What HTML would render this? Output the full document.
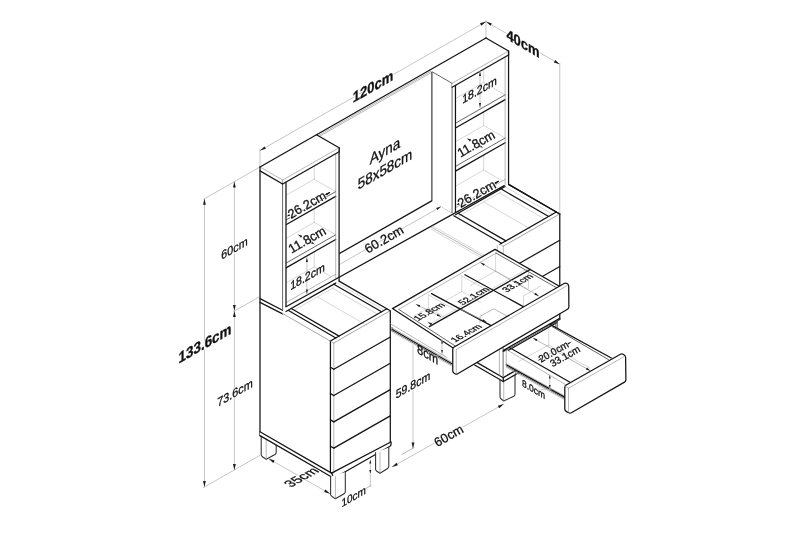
<!DOCTYPE html>
<html><head><meta charset="utf-8"><title>Furniture dimensions</title>
<style>
html,body{margin:0;padding:0;background:#fff;}
body{width:800px;height:533px;overflow:hidden;font-family:"Liberation Sans",sans-serif;}
svg{display:block;}
svg{filter:grayscale(1);}
svg text{font-family:"Liberation Sans",sans-serif;}
</style></head><body>
<svg width="800" height="533" viewBox="0 0 800 533" stroke-linecap="round">
<rect x="0" y="0" width="800" height="533" fill="#ffffff"/>
<!-- outer dimensions -->
<line x1="260" y1="166.99" x2="203.51" y2="199.24" stroke="#c6c6c6" stroke-width="1.0"/>
<line x1="260" y1="296.47" x2="233.45" y2="311.63" stroke="#c6c6c6" stroke-width="1.0"/>
<line x1="260" y1="455.3" x2="203.51" y2="487.55" stroke="#c6c6c6" stroke-width="1.0"/>
<line x1="204.45" y1="198.7" x2="204.45" y2="487.01" stroke="#c6c6c6" stroke-width="1.0"/>
<polygon points="204.45,198.7 205.85,204.7 203.05,204.7" fill="#1a1a1a"/>
<polygon points="204.45,487.01 203.05,481.01 205.85,481.01" fill="#1a1a1a"/>
<line x1="234.39" y1="181.61" x2="234.39" y2="311.09" stroke="#c6c6c6" stroke-width="1.0"/>
<polygon points="234.39,181.61 235.79,187.61 232.99,187.61" fill="#1a1a1a"/>
<polygon points="234.39,311.09 232.99,305.09 235.79,305.09" fill="#1a1a1a"/>
<line x1="234.39" y1="311.09" x2="234.39" y2="469.92" stroke="#c6c6c6" stroke-width="1.0"/>
<polygon points="234.39,311.09 235.79,317.09 232.99,317.09" fill="#1a1a1a"/>
<polygon points="234.39,469.92 232.99,463.92 235.79,463.92" fill="#1a1a1a"/>
<line x1="260" y1="166.99" x2="260" y2="149.3" stroke="#c6c6c6" stroke-width="1.0"/>
<line x1="485.96" y1="37.99" x2="485.96" y2="20.3" stroke="#c6c6c6" stroke-width="1.0"/>
<line x1="260" y1="150.59" x2="485.96" y2="21.59" stroke="#c6c6c6" stroke-width="1.0"/>
<polygon points="260,150.59 264.52,146.4 265.9,148.83" fill="#1a1a1a"/>
<polygon points="485.96,21.59 481.44,25.78 480.06,23.35" fill="#1a1a1a"/>
<line x1="485.96" y1="21.59" x2="559.77" y2="64.24" stroke="#c6c6c6" stroke-width="1.0"/>
<polygon points="485.96,21.59 491.86,23.38 490.45,25.8" fill="#1a1a1a"/>
<polygon points="559.77,64.24 553.88,62.45 555.28,60.03" fill="#1a1a1a"/>
<line x1="559.77" y1="63.38" x2="559.77" y2="214.01" stroke="#c6c6c6" stroke-width="1.0"/>
<line x1="268.75" y1="458.75" x2="330" y2="493.75" stroke="#c6c6c6" stroke-width="1.0"/>
<polygon points="268.75,458.75 274.65,460.51 273.26,462.94" fill="#1a1a1a"/>
<polygon points="330,493.75 324.1,491.99 325.49,489.56" fill="#1a1a1a"/>
<line x1="392" y1="467" x2="503.75" y2="404" stroke="#c6c6c6" stroke-width="1.0"/>
<polygon points="392,467 396.54,462.83 397.91,465.27" fill="#1a1a1a"/>
<polygon points="503.75,404 499.21,408.17 497.84,405.73" fill="#1a1a1a"/>
<line x1="370.3" y1="460" x2="370.3" y2="473.5" stroke="#c6c6c6" stroke-width="1.0"/>
<polygon points="370.3,460 371.3,463.5 369.3,463.5" fill="#1a1a1a"/>
<polygon points="370.3,473.5 369.3,470 371.3,470" fill="#1a1a1a"/>
<line x1="370.3" y1="473.5" x2="370.3" y2="486" stroke="#c6c6c6" stroke-width="1.0"/>
<line x1="364" y1="489.5" x2="371" y2="485.6" stroke="#9a9a9a" stroke-width="0.7"/>
<line x1="413" y1="345" x2="413" y2="448.5" stroke="#c6c6c6" stroke-width="1.0"/>
<polygon points="413,448.5 411.6,442.5 414.4,442.5" fill="#1a1a1a"/>
<line x1="402" y1="454.4" x2="414" y2="447.6" stroke="#9a9a9a" stroke-width="0.7"/>
<!-- legs -->
<polygon points="261.2,434 261.2,456 266.2,459.3 276.2,453.8 276.2,443" fill="#fff" stroke="none"/>
<path d="M261.2,434 L261.2,454.8 Q261.2,456 262.4,456.72 L266.2,459.3 L275,454.52 Q276.2,453.8 276.2,452.6 L276.2,443" fill="none" stroke="#2e2e2e" stroke-width="1.05" stroke-linejoin="round"/>
<line x1="266.2" y1="458.7" x2="266.2" y2="438.5" stroke="#9a9a9a" stroke-width="0.7"/>
<!-- mirror -->
<polygon points="316.49,134.74 429.47,70.24 432.11,71.76 432.11,201.24 319.13,265.74" fill="#fff" stroke="none"/>
<line x1="316.49" y1="134.74" x2="429.47" y2="70.24" stroke="#141414" stroke-width="1.25"/>
<line x1="318.09" y1="135.67" x2="431.07" y2="71.17" stroke="#9a9a9a" stroke-width="0.7"/>
<line x1="319.41" y1="136.43" x2="432.39" y2="71.93" stroke="#9a9a9a" stroke-width="0.7"/>
<line x1="432.11" y1="71.76" x2="432.11" y2="200.6" stroke="#141414" stroke-width="1.25"/>
<line x1="319.13" y1="265.1" x2="432.11" y2="200.6" stroke="#141414" stroke-width="1.25"/>
<line x1="432.11" y1="200.6" x2="452.07" y2="212.78" stroke="#4a4a4a" stroke-width="0.85"/>
<line x1="330.05" y1="269.89" x2="441.14" y2="206.47" stroke="#c6c6c6" stroke-width="1.0"/>
<polygon points="441.14,206.47 437.4,209.99 436.21,207.9" fill="#1a1a1a"/>
<!-- tower 0 -->
<polygon points="260,166.99 260,166.99 316.49,134.74 339.09,147.8 339.09,277.28 282.6,309.53 260,296.47" fill="#fff" stroke="none"/>
<line x1="314.23" y1="179.19" x2="314.23" y2="165.87" stroke="#bdbdbd" stroke-width="0.6"/>
<line x1="314.23" y1="179.19" x2="285.99" y2="195.32" stroke="#bdbdbd" stroke-width="0.6"/>
<line x1="314.23" y1="179.19" x2="335.7" y2="191.6" stroke="#bdbdbd" stroke-width="0.6"/>
<line x1="314.23" y1="222.35" x2="314.23" y2="208.6" stroke="#bdbdbd" stroke-width="0.6"/>
<line x1="314.23" y1="222.35" x2="285.99" y2="238.48" stroke="#bdbdbd" stroke-width="0.6"/>
<line x1="314.23" y1="222.35" x2="335.7" y2="234.76" stroke="#bdbdbd" stroke-width="0.6"/>
<line x1="314.23" y1="266.81" x2="314.23" y2="251.76" stroke="#bdbdbd" stroke-width="0.6"/>
<line x1="314.23" y1="266.81" x2="285.99" y2="282.93" stroke="#bdbdbd" stroke-width="0.6"/>
<line x1="314.23" y1="266.81" x2="335.7" y2="279.21" stroke="#bdbdbd" stroke-width="0.6"/>
<polygon points="285.99,219.98 335.7,191.6 335.7,196.34 285.99,224.72" fill="#fff" stroke="none"/>
<line x1="285.99" y1="219.98" x2="335.7" y2="191.6" stroke="#4a4a4a" stroke-width="0.85"/>
<line x1="285.99" y1="224.72" x2="335.7" y2="196.34" stroke="#141414" stroke-width="1.25"/>
<polygon points="285.99,263.14 335.7,234.76 335.7,239.5 285.99,267.88" fill="#fff" stroke="none"/>
<line x1="285.99" y1="263.14" x2="335.7" y2="234.76" stroke="#4a4a4a" stroke-width="0.85"/>
<line x1="285.99" y1="267.88" x2="335.7" y2="239.5" stroke="#141414" stroke-width="1.25"/>
<polygon points="285.99,302.63 335.7,274.25 335.7,280.08 285.99,308.46" fill="#fff" stroke="none"/>
<line x1="285.99" y1="302.63" x2="335.7" y2="274.25" stroke="#9a9a9a" stroke-width="0.7"/>
<line x1="335.7" y1="153.62" x2="335.7" y2="278.13" stroke="#9a9a9a" stroke-width="0.7"/>
<line x1="339.09" y1="147.8" x2="339.09" y2="281.16" stroke="#141414" stroke-width="1.25"/>
<polygon points="260,166.99 282.6,180.05 285.99,182 285.99,307.59 282.6,309.53 260,296.47" fill="#fff" stroke="none"/>
<line x1="282.6" y1="180.05" x2="282.6" y2="309.53" stroke="#4a4a4a" stroke-width="0.85"/>
<line x1="285.99" y1="182" x2="285.99" y2="306.51" stroke="#141414" stroke-width="1.25"/>
<polygon points="260,166.99 316.49,134.74 339.09,147.8 339.09,151.68 282.6,183.93 282.6,180.05" fill="#fff" stroke="none"/>
<line x1="260" y1="166.99" x2="316.49" y2="134.74" stroke="#141414" stroke-width="1.25"/>
<line x1="316.49" y1="134.74" x2="339.09" y2="147.8" stroke="#141414" stroke-width="1.25"/>
<line x1="282.6" y1="180.05" x2="339.09" y2="147.8" stroke="#9a9a9a" stroke-width="0.7"/>
<line x1="260" y1="166.99" x2="282.6" y2="180.05" stroke="#9a9a9a" stroke-width="0.7"/>
<line x1="282.6" y1="183.93" x2="339.09" y2="151.68" stroke="#141414" stroke-width="1.25"/>
<line x1="339.09" y1="147.8" x2="339.09" y2="151.68" stroke="#141414" stroke-width="1.25"/>
<line x1="260" y1="170.88" x2="282.6" y2="183.93" stroke="#141414" stroke-width="1.25"/>
<!-- tower 90 -->
<polygon points="432.11,71.76 429.47,70.24 485.96,37.99 508.56,51.05 508.56,180.53 452.07,212.78 432.11,201.24" fill="#fff" stroke="none"/>
<line x1="483.7" y1="82.44" x2="483.7" y2="69.12" stroke="#bdbdbd" stroke-width="0.6"/>
<line x1="483.7" y1="82.44" x2="455.46" y2="98.57" stroke="#bdbdbd" stroke-width="0.6"/>
<line x1="483.7" y1="82.44" x2="505.17" y2="94.85" stroke="#bdbdbd" stroke-width="0.6"/>
<line x1="483.7" y1="125.6" x2="483.7" y2="111.85" stroke="#bdbdbd" stroke-width="0.6"/>
<line x1="483.7" y1="125.6" x2="455.46" y2="141.73" stroke="#bdbdbd" stroke-width="0.6"/>
<line x1="483.7" y1="125.6" x2="505.17" y2="138.01" stroke="#bdbdbd" stroke-width="0.6"/>
<line x1="483.7" y1="170.06" x2="483.7" y2="155.01" stroke="#bdbdbd" stroke-width="0.6"/>
<line x1="483.7" y1="170.06" x2="455.46" y2="186.18" stroke="#bdbdbd" stroke-width="0.6"/>
<line x1="483.7" y1="170.06" x2="505.17" y2="182.46" stroke="#bdbdbd" stroke-width="0.6"/>
<polygon points="455.46,123.23 505.17,94.85 505.17,99.59 455.46,127.97" fill="#fff" stroke="none"/>
<line x1="455.46" y1="123.23" x2="505.17" y2="94.85" stroke="#4a4a4a" stroke-width="0.85"/>
<line x1="455.46" y1="127.97" x2="505.17" y2="99.59" stroke="#141414" stroke-width="1.25"/>
<polygon points="455.46,166.39 505.17,138.01 505.17,142.75 455.46,171.13" fill="#fff" stroke="none"/>
<line x1="455.46" y1="166.39" x2="505.17" y2="138.01" stroke="#4a4a4a" stroke-width="0.85"/>
<line x1="455.46" y1="171.13" x2="505.17" y2="142.75" stroke="#141414" stroke-width="1.25"/>
<polygon points="455.46,207.82 505.17,179.44 505.17,183.33 455.46,211.71" fill="#fff" stroke="none"/>
<line x1="455.46" y1="207.82" x2="505.17" y2="179.44" stroke="#9a9a9a" stroke-width="0.7"/>
<line x1="505.17" y1="56.87" x2="505.17" y2="184.4" stroke="#9a9a9a" stroke-width="0.7"/>
<line x1="508.56" y1="51.05" x2="508.56" y2="184.41" stroke="#141414" stroke-width="1.25"/>
<polygon points="432.11,71.76 452.07,83.3 455.46,85.25 455.46,210.84 452.07,212.78 432.11,201.24" fill="#fff" stroke="none"/>
<line x1="452.07" y1="83.3" x2="452.07" y2="212.78" stroke="#4a4a4a" stroke-width="0.85"/>
<line x1="455.46" y1="85.25" x2="455.46" y2="212.35" stroke="#141414" stroke-width="1.25"/>
<polygon points="429.47,70.24 485.96,37.99 508.56,51.05 508.56,54.93 452.07,87.18 452.07,83.3" fill="#fff" stroke="none"/>
<line x1="429.47" y1="70.24" x2="485.96" y2="37.99" stroke="#141414" stroke-width="1.25"/>
<line x1="485.96" y1="37.99" x2="508.56" y2="51.05" stroke="#141414" stroke-width="1.25"/>
<line x1="452.07" y1="83.3" x2="508.56" y2="51.05" stroke="#9a9a9a" stroke-width="0.7"/>
<line x1="432.11" y1="71.76" x2="452.07" y2="83.3" stroke="#4a4a4a" stroke-width="0.85"/>
<line x1="452.07" y1="87.18" x2="508.56" y2="54.93" stroke="#141414" stroke-width="1.25"/>
<line x1="508.56" y1="51.05" x2="508.56" y2="54.93" stroke="#141414" stroke-width="1.25"/>
<line x1="432.11" y1="72.41" x2="432.11" y2="200.6" stroke="#4a4a4a" stroke-width="0.85"/>
<line x1="286" y1="306.75" x2="504.3" y2="185.6" stroke="#141414" stroke-width="1.25"/>
<line x1="431.5" y1="227.3" x2="486.5" y2="258.6" stroke="#9a9a9a" stroke-width="0.7"/>
<line x1="431.2" y1="229.2" x2="484.5" y2="259.6" stroke="#bdbdbd" stroke-width="0.6"/>
<line x1="433" y1="226.2" x2="489" y2="258" stroke="#bdbdbd" stroke-width="0.6"/>
<!-- left cabinet -->
<polygon points="260,296.47 282.6,309.53 282.6,313.41 330.42,341.05 330.42,476.35 260,435.66" fill="#fff" stroke="none"/>
<line x1="260" y1="166.99" x2="260" y2="435.66" stroke="#141414" stroke-width="1.25"/>
<line x1="260" y1="298.6" x2="282.6" y2="310.2" stroke="#141414" stroke-width="1.25"/>
<line x1="260" y1="302.4" x2="282.6" y2="313.9" stroke="#141414" stroke-width="1.25"/>
<line x1="282.6" y1="313.41" x2="330.42" y2="341.05" stroke="#9a9a9a" stroke-width="0.7"/>
<polygon points="282.6,313.41 339.09,281.16 390.3,310.76 333.81,343.01" fill="#fff" stroke="none"/>
<line x1="291.26" y1="311.81" x2="333.81" y2="287.52" stroke="#bdbdbd" stroke-width="0.6"/>
<line x1="317.43" y1="296.87" x2="364.32" y2="323.96" stroke="#bdbdbd" stroke-width="0.6"/>
<line x1="332.5" y1="288.27" x2="377.5" y2="314.27" stroke="#bdbdbd" stroke-width="0.6"/>
<line x1="285.99" y1="311.48" x2="335.7" y2="283.1" stroke="#141414" stroke-width="1.25"/>
<line x1="282.6" y1="313.41" x2="330.42" y2="341.05" stroke="#9a9a9a" stroke-width="0.7"/>
<line x1="288.06" y1="310.29" x2="335.88" y2="337.93" stroke="#141414" stroke-width="1.25"/>
<line x1="291.26" y1="308.47" x2="339.09" y2="336.1" stroke="#141414" stroke-width="1.25"/>
<line x1="333.81" y1="284.17" x2="381.64" y2="311.81" stroke="#141414" stroke-width="1.25"/>
<line x1="336.64" y1="282.56" x2="384.47" y2="310.19" stroke="#bdbdbd" stroke-width="0.6"/>
<line x1="339.09" y1="281.16" x2="390.3" y2="310.76" stroke="#141414" stroke-width="1.25"/>
<line x1="330.42" y1="341.05" x2="386.91" y2="308.8" stroke="#141414" stroke-width="1.25"/>
<line x1="333.81" y1="343.01" x2="390.3" y2="310.76" stroke="#9a9a9a" stroke-width="0.7"/>
<polygon points="333.81,343.01 390.3,310.76 390.3,442.18 333.81,474.43" fill="#fff" stroke="none"/>
<polygon points="330.42,341.05 333.81,343.01 333.81,474.43 330.42,472.47" fill="#fff" stroke="none"/>
<line x1="330.42" y1="341.05" x2="330.42" y2="476.35" stroke="#141414" stroke-width="1.25"/>
<line x1="333.81" y1="343.01" x2="333.81" y2="474.43" stroke="#9a9a9a" stroke-width="0.7"/>
<line x1="330.42" y1="341.05" x2="333.81" y2="343.01" stroke="#9a9a9a" stroke-width="0.7"/>
<line x1="333.81" y1="343.01" x2="390.3" y2="310.76" stroke="#9a9a9a" stroke-width="0.7"/>
<line x1="390.3" y1="310.76" x2="390.3" y2="442.18" stroke="#141414" stroke-width="1.25"/>
<line x1="333.81" y1="369.29" x2="390.3" y2="337.04" stroke="#141414" stroke-width="1.25"/>
<line x1="330.42" y1="367.33" x2="333.81" y2="369.29" stroke="#141414" stroke-width="1.25"/>
<line x1="333.81" y1="395.57" x2="390.3" y2="363.32" stroke="#141414" stroke-width="1.25"/>
<line x1="330.42" y1="393.62" x2="333.81" y2="395.57" stroke="#141414" stroke-width="1.25"/>
<line x1="333.81" y1="421.86" x2="390.3" y2="389.61" stroke="#141414" stroke-width="1.25"/>
<line x1="330.42" y1="419.9" x2="333.81" y2="421.86" stroke="#141414" stroke-width="1.25"/>
<line x1="333.81" y1="448.14" x2="390.3" y2="415.89" stroke="#141414" stroke-width="1.25"/>
<line x1="330.42" y1="446.18" x2="333.81" y2="448.14" stroke="#141414" stroke-width="1.25"/>
<polygon points="260,431.78 333.81,474.43 391.25,441.64 391.25,445.52 334.38,478.64 260,435.66" fill="#fff" stroke="none"/>
<line x1="260" y1="431.78" x2="331.55" y2="473.12" stroke="#141414" stroke-width="1.25"/>
<line x1="260" y1="435.66" x2="333.81" y2="478.31" stroke="#141414" stroke-width="1.25"/>
<line x1="331.55" y1="473.12" x2="390.3" y2="442.18" stroke="#141414" stroke-width="1.25"/>
<path d="M333.81,478.31 L389.56,446.53 Q391.06,445.63 391.06,444.13 L391.06,441.75" fill="none" stroke="#141414" stroke-width="1.25"/>
<line x1="331.55" y1="473.12" x2="333.81" y2="478.31" stroke="#141414" stroke-width="1.25"/>
<polygon points="330.6,476.5 330.6,495.6 335.4,498.8 345.3,493 345.3,472" fill="#fff" stroke="none"/>
<path d="M330.6,476.5 L330.6,494.4 Q330.6,495.6 331.8,496.32 L335.4,498.8 L344.1,493.72 Q345.3,493 345.3,491.8 L345.3,472" fill="none" stroke="#2e2e2e" stroke-width="1.05" stroke-linejoin="round"/>
<line x1="335.4" y1="498.2" x2="335.4" y2="476.53" stroke="#9a9a9a" stroke-width="0.7"/>
<polygon points="375.6,452.5 375.6,470.5 380,473.3 388.8,467.8 388.8,447.5" fill="#fff" stroke="none"/>
<path d="M375.6,452.5 L375.6,469.3 Q375.6,470.5 376.8,471.22 L380,473.3 L387.6,468.52 Q388.8,467.8 388.8,466.6 L388.8,447.5" fill="none" stroke="#2e2e2e" stroke-width="1.05" stroke-linejoin="round"/>
<line x1="380" y1="472.7" x2="380" y2="452.33" stroke="#9a9a9a" stroke-width="0.7"/>
<!-- right cabinet -->
<polygon points="452.07,216.66 508.56,184.41 559.77,214.01 503.28,246.26" fill="#fff" stroke="none"/>
<line x1="458.09" y1="216.57" x2="500.84" y2="192.16" stroke="#bdbdbd" stroke-width="0.6"/>
<line x1="483.7" y1="201.95" x2="530.59" y2="229.04" stroke="#bdbdbd" stroke-width="0.6"/>
<line x1="499.52" y1="192.92" x2="544.52" y2="218.92" stroke="#bdbdbd" stroke-width="0.6"/>
<line x1="455.46" y1="214.73" x2="505.17" y2="186.35" stroke="#141414" stroke-width="1.25"/>
<line x1="453.76" y1="215.69" x2="501.59" y2="243.33" stroke="#141414" stroke-width="1.25"/>
<line x1="458.09" y1="213.22" x2="505.92" y2="240.86" stroke="#141414" stroke-width="1.25"/>
<line x1="500.84" y1="188.82" x2="548.66" y2="216.45" stroke="#141414" stroke-width="1.25"/>
<line x1="504.79" y1="186.56" x2="552.62" y2="214.2" stroke="#bdbdbd" stroke-width="0.6"/>
<line x1="508.56" y1="184.41" x2="559.77" y2="214.01" stroke="#141414" stroke-width="1.25"/>
<line x1="499.89" y1="244.3" x2="556.38" y2="212.05" stroke="#141414" stroke-width="1.25"/>
<line x1="503.28" y1="246.26" x2="559.77" y2="214.01" stroke="#9a9a9a" stroke-width="0.7"/>
<line x1="508.56" y1="184.41" x2="559.77" y2="214.01" stroke="#141414" stroke-width="1.25"/>
<polygon points="503.28,246.26 559.77,214.01 559.77,345.43 503.28,377.68" fill="#fff" stroke="none"/>
<line x1="503.28" y1="246.26" x2="559.77" y2="214.01" stroke="#9a9a9a" stroke-width="0.7"/>
<line x1="559.77" y1="214.01" x2="559.77" y2="319.14" stroke="#141414" stroke-width="1.25"/>
<line x1="503.28" y1="272.54" x2="559.77" y2="240.29" stroke="#141414" stroke-width="1.25"/>
<line x1="503.28" y1="298.82" x2="559.77" y2="266.57" stroke="#141414" stroke-width="1.25"/>
<line x1="503.28" y1="325.11" x2="559.77" y2="292.86" stroke="#141414" stroke-width="1.25"/>
<line x1="503.28" y1="351.39" x2="559.77" y2="319.14" stroke="#141414" stroke-width="1.25"/>
<line x1="499.89" y1="244.3" x2="503.28" y2="246.26" stroke="#9a9a9a" stroke-width="0.7"/>
<line x1="503.28" y1="246.26" x2="503.28" y2="272.15" stroke="#9a9a9a" stroke-width="0.7"/>
<line x1="497.26" y1="245.8" x2="497.26" y2="271.7" stroke="#9a9a9a" stroke-width="0.7"/>
<polygon points="503.28,377.68 559.77,345.43 559.77,349.31 503.28,381.56" fill="#fff" stroke="none"/>
<line x1="503.28" y1="377.68" x2="559.77" y2="345.43" stroke="#141414" stroke-width="1.25"/>
<line x1="503.28" y1="381.56" x2="559.77" y2="349.31" stroke="#141414" stroke-width="1.25"/>
<!-- right cabinet left side, under desk -->
<polygon points="500,379 500,398.3 503.75,401 515,395.5 515,373" fill="#fff" stroke="none"/>
<path d="M500,379 L500,397.1 Q500,398.3 501.2,399.02 L503.75,401 L513.8,396.22 Q515,395.5 515,394.3 L515,373" fill="none" stroke="#2e2e2e" stroke-width="1.05" stroke-linejoin="round"/>
<line x1="503.75" y1="400.4" x2="503.75" y2="379" stroke="#9a9a9a" stroke-width="0.7"/>
<polygon points="474.66,361.14 503.28,377.68 514.96,371.01 514.96,374.9 503.28,381.56 474.66,365.02" fill="#fff" stroke="none"/>
<line x1="474.66" y1="361.14" x2="503.28" y2="377.68" stroke="#141414" stroke-width="1.25"/>
<line x1="474.66" y1="365.02" x2="503.28" y2="381.56" stroke="#141414" stroke-width="1.25"/>
<line x1="503.28" y1="377.68" x2="514.96" y2="371.01" stroke="#141414" stroke-width="1.25"/>
<line x1="503.28" y1="381.56" x2="514.96" y2="374.9" stroke="#141414" stroke-width="1.25"/>
<line x1="503.28" y1="377.68" x2="503.28" y2="381.56" stroke="#141414" stroke-width="1.25"/>
<line x1="499.4" y1="340" x2="499.4" y2="375" stroke="#9a9a9a" stroke-width="0.7"/>
<line x1="503.1" y1="340" x2="503.1" y2="377" stroke="#4a4a4a" stroke-width="0.85"/>
<!-- small drawer -->
<polygon points="506.25,348.1 570,383.6 570,400.6 506.25,365.1" fill="#fff" stroke="none"/>
<polygon points="506.25,348.1 550,324.4 611.3,358 570,383.6" fill="#fff" stroke="none"/>
<line x1="506.25" y1="363.5" x2="565.5" y2="396.4" stroke="#9a9a9a" stroke-width="0.7"/>
<line x1="506.25" y1="364.7" x2="565.5" y2="397.6" stroke="#141414" stroke-width="1.25"/>
<line x1="506.25" y1="366" x2="565.5" y2="398.9" stroke="#4a4a4a" stroke-width="0.85"/>
<line x1="506.25" y1="367.3" x2="565.5" y2="400.2" stroke="#9a9a9a" stroke-width="0.7"/>
<line x1="506.25" y1="349.1" x2="506.25" y2="365.1" stroke="#9a9a9a" stroke-width="0.7"/>
<line x1="548.75" y1="327.5" x2="548.75" y2="345" stroke="#bdbdbd" stroke-width="0.6"/>
<line x1="548.75" y1="345" x2="518" y2="361.8" stroke="#bdbdbd" stroke-width="0.6"/>
<line x1="548.75" y1="345" x2="590" y2="368.1" stroke="#bdbdbd" stroke-width="0.6"/>
<line x1="506" y1="349.2" x2="565.5" y2="384.6" stroke="#9a9a9a" stroke-width="0.7"/>
<line x1="509" y1="347.2" x2="570" y2="382.2" stroke="#141414" stroke-width="1.25"/>
<line x1="503.5" y1="350.4" x2="559.8" y2="318.3" stroke="#141414" stroke-width="1.25"/>
<line x1="505.5" y1="350.6" x2="559.8" y2="319.6" stroke="#4a4a4a" stroke-width="0.85"/>
<line x1="508.5" y1="350.2" x2="557" y2="322.5" stroke="#141414" stroke-width="1.25"/>
<line x1="555.8" y1="321.5" x2="555.8" y2="327.3" stroke="#4a4a4a" stroke-width="0.85"/>
<line x1="557.3" y1="320.5" x2="557.3" y2="328.2" stroke="#4a4a4a" stroke-width="0.85"/>
<line x1="550" y1="324.4" x2="611.3" y2="358" stroke="#141414" stroke-width="1.25"/>
<line x1="552.4" y1="326.8" x2="608.5" y2="359.6" stroke="#4a4a4a" stroke-width="0.85"/>
<line x1="533" y1="338" x2="590.3" y2="370.8" stroke="#9a9a9a" stroke-width="0.7"/>
<polygon points="533,338 537.45,339.28 536.36,341.19" fill="#1a1a1a"/>
<polygon points="590.3,370.8 585.85,369.52 586.94,367.61" fill="#1a1a1a"/>
<line x1="538" y1="360.6" x2="571.3" y2="341.9" stroke="#9a9a9a" stroke-width="0.7"/>
<polygon points="538,360.6 541.39,357.44 542.46,359.36" fill="#1a1a1a"/>
<polygon points="571.3,341.9 567.91,345.06 566.84,343.14" fill="#1a1a1a"/>
<path d="M564.8,387.4 Q564.8,385.8 566.19,385.01 L620.41,354.29 Q621.8,353.5 623.17,354.33 L624.23,354.97 Q625.6,355.8 625.62,357.4 L625.88,379.7 Q625.9,381.3 624.51,382.1 L571.39,412.8 Q570,413.6 568.61,412.8 L566.19,411.4 Q564.8,410.6 564.8,409 Z" fill="#fff" stroke="#141414" stroke-width="1.25" stroke-linejoin="round"/>
<line x1="568.5" y1="388.2" x2="624.2" y2="356.6" stroke="#9a9a9a" stroke-width="0.7"/>
<line x1="568.5" y1="388.2" x2="568.5" y2="412" stroke="#9a9a9a" stroke-width="0.7"/>
<line x1="564.8" y1="385.8" x2="568.5" y2="388.2" stroke="#9a9a9a" stroke-width="0.7"/>
<line x1="549.8" y1="375" x2="549.8" y2="388.5" stroke="#c6c6c6" stroke-width="1.0"/>
<polygon points="549.8,375 550.7,378.5 548.9,378.5" fill="#1a1a1a"/>
<polygon points="549.8,388.5 548.9,385 550.7,385" fill="#1a1a1a"/>
<line x1="540" y1="389.5" x2="551" y2="389.5" stroke="#bdbdbd" stroke-width="0.6"/>
<!-- wide drawer -->
<polygon points="392.5,308.6 452.8,347.8 452.8,371.3 392.5,329.1" fill="#fff" stroke="none"/>
<polygon points="392.5,308.6 495,249.4 559.4,286.25 452.8,347.8" fill="#fff" stroke="none"/>
<line x1="390.6" y1="323.8" x2="447" y2="357.6" stroke="#9a9a9a" stroke-width="0.7"/>
<line x1="392" y1="327.8" x2="451.5" y2="362" stroke="#9a9a9a" stroke-width="0.7"/>
<line x1="392" y1="329.3" x2="451.5" y2="363.5" stroke="#141414" stroke-width="1.25"/>
<line x1="392" y1="330.7" x2="451.5" y2="364.9" stroke="#4a4a4a" stroke-width="0.85"/>
<line x1="392" y1="332" x2="451.5" y2="366.2" stroke="#bdbdbd" stroke-width="0.6"/>
<line x1="392" y1="327.3" x2="392" y2="331" stroke="#4a4a4a" stroke-width="0.85"/>
<line x1="495.6" y1="252.5" x2="495.6" y2="271" stroke="#bdbdbd" stroke-width="0.6"/>
<line x1="495.6" y1="271" x2="470.5" y2="285.5" stroke="#bdbdbd" stroke-width="0.6"/>
<line x1="495.6" y1="271" x2="527.5" y2="289" stroke="#bdbdbd" stroke-width="0.6"/>
<line x1="461.8" y1="276" x2="461.8" y2="291.5" stroke="#bdbdbd" stroke-width="0.6"/>
<line x1="461.8" y1="291.5" x2="446" y2="300.5" stroke="#bdbdbd" stroke-width="0.6"/>
<line x1="461.8" y1="291.5" x2="481" y2="302.5" stroke="#bdbdbd" stroke-width="0.6"/>
<line x1="461.8" y1="276" x2="490" y2="291.8" stroke="#bdbdbd" stroke-width="0.6"/>
<line x1="428.4" y1="294.9" x2="428.4" y2="307.9" stroke="#bdbdbd" stroke-width="0.6"/>
<line x1="428.4" y1="307.9" x2="414" y2="316" stroke="#bdbdbd" stroke-width="0.6"/>
<line x1="428.4" y1="307.9" x2="447" y2="318.5" stroke="#bdbdbd" stroke-width="0.6"/>
<line x1="428.4" y1="294.9" x2="457.5" y2="311.2" stroke="#bdbdbd" stroke-width="0.6"/>
<polyline points="480,322.5 480,316.3 493.8,308.8 507.5,316.3" fill="none" stroke="#9a9a9a" stroke-width="0.7" stroke-linejoin="round"/>
<line x1="523.5" y1="306.9" x2="523.5" y2="296" stroke="#bdbdbd" stroke-width="0.6"/>
<line x1="523.5" y1="296" x2="540.5" y2="286" stroke="#bdbdbd" stroke-width="0.6"/>
<line x1="528.5" y1="272.5" x2="528.5" y2="288.5" stroke="#bdbdbd" stroke-width="0.6"/>
<line x1="455.57" y1="346.2" x2="398.67" y2="309.33" stroke="#4a4a4a" stroke-width="0.85"/>
<line x1="398.67" y1="309.33" x2="496.06" y2="253.08" stroke="#9a9a9a" stroke-width="0.7"/>
<line x1="496.06" y1="253.08" x2="556.63" y2="287.85" stroke="#4a4a4a" stroke-width="0.85"/>
<line x1="429.3" y1="326.6" x2="530.4" y2="269.4" stroke="#141414" stroke-width="1.25"/>
<line x1="430.5" y1="323.6" x2="529" y2="267.9" stroke="#bdbdbd" stroke-width="0.6"/>
<line x1="431.5" y1="293.6" x2="491.2" y2="325.6" stroke="#141414" stroke-width="1.25"/>
<line x1="464.9" y1="274.7" x2="523.7" y2="306.9" stroke="#141414" stroke-width="1.25"/>
<polyline points="452.8,347.8 392.5,308.6 495,249.4 559.4,286.25" fill="none" stroke="#141414" stroke-width="1.25" stroke-linejoin="round"/>
<line x1="416" y1="304.3" x2="441" y2="316.7" stroke="#9a9a9a" stroke-width="0.7"/>
<polygon points="416,304.3 420.25,305.18 419.27,307.15" fill="#1a1a1a"/>
<polygon points="441,316.7 436.75,315.82 437.73,313.85" fill="#1a1a1a"/>
<line x1="480.4" y1="262.6" x2="538.8" y2="296" stroke="#9a9a9a" stroke-width="0.7"/>
<polygon points="480.4,262.6 484.85,263.88 483.76,265.79" fill="#1a1a1a"/>
<polygon points="538.8,296 534.35,294.72 535.44,292.81" fill="#1a1a1a"/>
<line x1="427.9" y1="322.2" x2="431" y2="323.9" stroke="#9a9a9a" stroke-width="0.7"/>
<polygon points="427.9,322.2 432.11,323.26 431.05,325.18" fill="#1a1a1a"/>
<line x1="486.5" y1="322" x2="461" y2="309.5" stroke="#9a9a9a" stroke-width="0.7"/>
<polygon points="486.5,322 482.24,321.14 483.21,319.16" fill="#1a1a1a"/>
<path d="M452.75,349.35 Q452.75,347.75 454.14,346.95 L564.11,283.5 Q565.5,282.7 566.88,283.52 L567.32,283.78 Q568.7,284.6 568.71,286.2 L568.89,306.8 Q568.9,308.4 567.52,309.21 L457.68,373.69 Q456.3,374.5 454.92,373.69 L454.13,373.21 Q452.75,372.4 452.75,370.8 Z" fill="#fff" stroke="#141414" stroke-width="1.25" stroke-linejoin="round"/>
<line x1="456.25" y1="349.6" x2="567.5" y2="285.4" stroke="#9a9a9a" stroke-width="0.7"/>
<line x1="456.25" y1="349.6" x2="456.25" y2="373.5" stroke="#9a9a9a" stroke-width="0.7"/>
<line x1="442" y1="340" x2="442" y2="353.5" stroke="#c6c6c6" stroke-width="1.0"/>
<polygon points="442,340 442.9,343.5 441.1,343.5" fill="#1a1a1a"/>
<polygon points="442,353.5 441.1,350 442.9,350" fill="#1a1a1a"/>
<line x1="433" y1="356.5" x2="443.5" y2="354" stroke="#bdbdbd" stroke-width="0.6"/>
<!-- tower dims -->
<line x1="306.9" y1="257.5" x2="306.9" y2="294" stroke="#c6c6c6" stroke-width="1.0"/>
<polygon points="306.9,257.5 307.9,262 305.9,262" fill="#1a1a1a"/>
<polygon points="306.9,294 305.9,289.5 307.9,289.5" fill="#1a1a1a"/>
<line x1="298" y1="234.6" x2="314.5" y2="244.2" stroke="#bdbdbd" stroke-width="0.6"/>
<polygon points="298,234.6 302.23,235.67 301.03,237.75" fill="#1a1a1a"/>
<polygon points="314.5,244.2 310.27,243.13 311.47,241.05" fill="#1a1a1a"/>
<polygon points="286.6,216.6 289.14,214 290.14,215.73" fill="#1a1a1a"/>
<polygon points="329.5,192.6 326.96,195.2 325.96,193.47" fill="#1a1a1a"/>
<line x1="329.5" y1="192.6" x2="325.5" y2="194.9" stroke="#141414" stroke-width="1.25"/>
<line x1="480" y1="71.5" x2="480" y2="107.5" stroke="#c6c6c6" stroke-width="1.0"/>
<polygon points="480,71.5 481,76 479,76" fill="#1a1a1a"/>
<polygon points="480,107.5 479,103 481,103" fill="#1a1a1a"/>
<line x1="467" y1="138.4" x2="483" y2="147.8" stroke="#bdbdbd" stroke-width="0.6"/>
<polygon points="467,138.4 471.23,139.49 470.01,141.56" fill="#1a1a1a"/>
<polygon points="483,147.8 478.77,146.71 479.99,144.64" fill="#1a1a1a"/>
<polygon points="456.2,205.3 458.74,202.7 459.74,204.43" fill="#1a1a1a"/>
<polygon points="498.5,181.3 495.96,183.9 494.96,182.17" fill="#1a1a1a"/>
<line x1="498.5" y1="181.3" x2="494.5" y2="183.6" stroke="#141414" stroke-width="1.25"/>
<!-- labels -->
<text transform="matrix(0.8684 -0.4958 0.0000 1.0000 373 86)" font-size="15" font-weight="bold" font-style="normal" text-anchor="middle" dominant-baseline="central" fill="#fff" stroke="#fff" stroke-width="2.5" stroke-linejoin="round">120cm</text>
<text transform="matrix(0.8684 -0.4958 0.0000 1.0000 373 86)" font-size="15" font-weight="bold" font-style="normal" text-anchor="middle" dominant-baseline="central" fill="#111" stroke="#111" stroke-width="0.3">120cm</text>
<text transform="matrix(0.8659 0.5003 0.0000 1.0000 523 43)" font-size="15" font-weight="bold" font-style="normal" text-anchor="middle" dominant-baseline="central" fill="#fff" stroke="#fff" stroke-width="2.5" stroke-linejoin="round">40cm</text>
<text transform="matrix(0.8659 0.5003 0.0000 1.0000 523 43)" font-size="15" font-weight="bold" font-style="normal" text-anchor="middle" dominant-baseline="central" fill="#111" stroke="#111" stroke-width="0.3">40cm</text>
<text transform="matrix(0.8684 -0.4958 0.0000 1.0000 385 150.5)" font-size="15.5" font-weight="normal" font-style="normal" text-anchor="middle" dominant-baseline="central" fill="#111" stroke="#111" stroke-width="0.3">Ayna</text>
<text transform="matrix(0.8684 -0.4958 0.0000 1.0000 385 169)" font-size="15.5" font-weight="normal" font-style="normal" text-anchor="middle" dominant-baseline="central" fill="#111" stroke="#111" stroke-width="0.3">58x58cm</text>
<text transform="matrix(0.8684 -0.4958 0.0000 1.0000 205 343)" font-size="15.5" font-weight="bold" font-style="normal" text-anchor="middle" dominant-baseline="central" fill="#fff" stroke="#fff" stroke-width="2.5" stroke-linejoin="round">133.6cm</text>
<text transform="matrix(0.8684 -0.4958 0.0000 1.0000 205 343)" font-size="15.5" font-weight="bold" font-style="normal" text-anchor="middle" dominant-baseline="central" fill="#111" stroke="#111" stroke-width="0.3">133.6cm</text>
<text transform="matrix(0.8684 -0.4958 0.0000 1.0000 234.5 248.5)" font-size="12.4" font-weight="normal" font-style="normal" text-anchor="middle" dominant-baseline="central" fill="#fff" stroke="#fff" stroke-width="2.5" stroke-linejoin="round">60cm</text>
<text transform="matrix(0.8684 -0.4958 0.0000 1.0000 234.5 248.5)" font-size="12.4" font-weight="normal" font-style="normal" text-anchor="middle" dominant-baseline="central" fill="#111" stroke="#111" stroke-width="0.3">60cm</text>
<text transform="matrix(0.8684 -0.4958 0.0000 1.0000 235 393)" font-size="12.5" font-weight="normal" font-style="normal" text-anchor="middle" dominant-baseline="central" fill="#fff" stroke="#fff" stroke-width="2.5" stroke-linejoin="round">73.6cm</text>
<text transform="matrix(0.8684 -0.4958 0.0000 1.0000 235 393)" font-size="12.5" font-weight="normal" font-style="normal" text-anchor="middle" dominant-baseline="central" fill="#111" stroke="#111" stroke-width="0.3">73.6cm</text>
<text transform="matrix(0.8684 -0.4958 0.4958 0.8684 384 239.2)" font-size="13" font-weight="normal" font-style="normal" text-anchor="middle" dominant-baseline="central" fill="#111" stroke="#111" stroke-width="0.3">60.2cm</text>
<text transform="matrix(0.8684 -0.4958 0.8659 0.5003 301.4 477.3)" font-size="13.6" font-weight="normal" font-style="normal" text-anchor="middle" dominant-baseline="central" fill="#fff" stroke="#fff" stroke-width="2.5" stroke-linejoin="round">35cm</text>
<text transform="matrix(0.8684 -0.4958 0.8659 0.5003 301.4 477.3)" font-size="13.6" font-weight="normal" font-style="normal" text-anchor="middle" dominant-baseline="central" fill="#111" stroke="#111" stroke-width="0.3">35cm</text>
<text transform="matrix(0.8684 -0.4958 0.0000 1.0000 353.7 496.5)" font-size="11.5" font-weight="normal" font-style="normal" text-anchor="middle" dominant-baseline="central" fill="#111" stroke="#111" stroke-width="0.3">10cm</text>
<text transform="matrix(0.8684 -0.4958 0.0000 1.0000 413 385)" font-size="12.2" font-weight="normal" font-style="normal" text-anchor="middle" dominant-baseline="central" fill="#fff" stroke="#fff" stroke-width="2.5" stroke-linejoin="round">59.8cm</text>
<text transform="matrix(0.8684 -0.4958 0.0000 1.0000 413 385)" font-size="12.2" font-weight="normal" font-style="normal" text-anchor="middle" dominant-baseline="central" fill="#111" stroke="#111" stroke-width="0.3">59.8cm</text>
<text transform="matrix(0.8684 -0.4958 0.4958 0.8684 448.7 435.5)" font-size="12.8" font-weight="normal" font-style="normal" text-anchor="middle" dominant-baseline="central" fill="#fff" stroke="#fff" stroke-width="2.5" stroke-linejoin="round">60cm</text>
<text transform="matrix(0.8684 -0.4958 0.4958 0.8684 448.7 435.5)" font-size="12.8" font-weight="normal" font-style="normal" text-anchor="middle" dominant-baseline="central" fill="#111" stroke="#111" stroke-width="0.3">60cm</text>
<text transform="matrix(0.8659 0.5003 0.0000 1.0000 427.6 354.4)" font-size="13" font-weight="normal" font-style="normal" text-anchor="middle" dominant-baseline="central" fill="#111" stroke="#111" stroke-width="0.3">8cm</text>
<text transform="matrix(0.8659 0.5003 0.0000 1.0000 533.6 389.2)" font-size="9.8" font-weight="normal" font-style="normal" text-anchor="middle" dominant-baseline="central" fill="#111" stroke="#111" stroke-width="0.3">8.0cm</text>
<text transform="matrix(0.8684 -0.4958 0.8659 0.5003 429 311.5)" font-size="9.6" font-weight="normal" font-style="normal" text-anchor="middle" dominant-baseline="central" fill="#111" stroke="#111" stroke-width="0.3">15.8cm</text>
<text transform="matrix(0.8684 -0.4958 0.8659 0.5003 473.4 295.8)" font-size="9.6" font-weight="normal" font-style="normal" text-anchor="middle" dominant-baseline="central" fill="#111" stroke="#111" stroke-width="0.3">52.1cm</text>
<text transform="matrix(0.8684 -0.4958 0.8659 0.5003 466 333)" font-size="9.6" font-weight="normal" font-style="normal" text-anchor="middle" dominant-baseline="central" fill="#111" stroke="#111" stroke-width="0.3">16.4cm</text>
<text transform="matrix(0.8684 -0.4958 0.8659 0.5003 517.3 282.9)" font-size="9.6" font-weight="normal" font-style="normal" text-anchor="middle" dominant-baseline="central" fill="#111" stroke="#111" stroke-width="0.3">33.1cm</text>
<text transform="matrix(0.8684 -0.4958 0.4958 0.8684 553.5 351.6)" font-size="10" font-weight="normal" font-style="normal" text-anchor="middle" dominant-baseline="central" fill="#fff" stroke="#fff" stroke-width="1.4" stroke-linejoin="round">20.0cm</text>
<text transform="matrix(0.8684 -0.4958 0.4958 0.8684 553.5 351.6)" font-size="10" font-weight="normal" font-style="normal" text-anchor="middle" dominant-baseline="central" fill="#111" stroke="#111" stroke-width="0.3">20.0cm</text>
<text transform="matrix(0.8684 -0.4958 0.4958 0.8684 565 356.2)" font-size="10" font-weight="normal" font-style="normal" text-anchor="middle" dominant-baseline="central" fill="#111" stroke="#111" stroke-width="0.3">33.1cm</text>
<text transform="matrix(0.8684 -0.4958 0.4958 0.8684 306.9 204.6)" font-size="12.8" font-weight="normal" font-style="normal" text-anchor="middle" dominant-baseline="central" fill="#fff" stroke="#fff" stroke-width="1.6" stroke-linejoin="round">26.2cm</text>
<text transform="matrix(0.8684 -0.4958 0.4958 0.8684 306.9 204.6)" font-size="12.8" font-weight="normal" font-style="normal" text-anchor="middle" dominant-baseline="central" fill="#111" stroke="#111" stroke-width="0.3">26.2cm</text>
<text transform="matrix(0.8684 -0.4958 0.4958 0.8684 307.1 239.6)" font-size="12.8" font-weight="normal" font-style="normal" text-anchor="middle" dominant-baseline="central" fill="#fff" stroke="#fff" stroke-width="1.6" stroke-linejoin="round">11.8cm</text>
<text transform="matrix(0.8684 -0.4958 0.4958 0.8684 307.1 239.6)" font-size="12.8" font-weight="normal" font-style="normal" text-anchor="middle" dominant-baseline="central" fill="#111" stroke="#111" stroke-width="0.3">11.8cm</text>
<text transform="matrix(0.8684 -0.4958 0.0000 1.0000 307.5 276.5)" font-size="12.2" font-weight="normal" font-style="normal" text-anchor="middle" dominant-baseline="central" fill="#111" stroke="#111" stroke-width="0.3">18.2cm</text>
<text transform="matrix(0.8684 -0.4958 0.0000 1.0000 479.5 90)" font-size="12.2" font-weight="normal" font-style="normal" text-anchor="middle" dominant-baseline="central" fill="#111" stroke="#111" stroke-width="0.3">18.2cm</text>
<text transform="matrix(0.8684 -0.4958 0.4958 0.8684 476 143.6)" font-size="12.8" font-weight="normal" font-style="normal" text-anchor="middle" dominant-baseline="central" fill="#fff" stroke="#fff" stroke-width="1.6" stroke-linejoin="round">11.8cm</text>
<text transform="matrix(0.8684 -0.4958 0.4958 0.8684 476 143.6)" font-size="12.8" font-weight="normal" font-style="normal" text-anchor="middle" dominant-baseline="central" fill="#111" stroke="#111" stroke-width="0.3">11.8cm</text>
<text transform="matrix(0.8684 -0.4958 0.4958 0.8684 476.6 193.6)" font-size="12.8" font-weight="normal" font-style="normal" text-anchor="middle" dominant-baseline="central" fill="#fff" stroke="#fff" stroke-width="1.6" stroke-linejoin="round">26.2cm</text>
<text transform="matrix(0.8684 -0.4958 0.4958 0.8684 476.6 193.6)" font-size="12.8" font-weight="normal" font-style="normal" text-anchor="middle" dominant-baseline="central" fill="#111" stroke="#111" stroke-width="0.3">26.2cm</text>
</svg>
</body></html>
